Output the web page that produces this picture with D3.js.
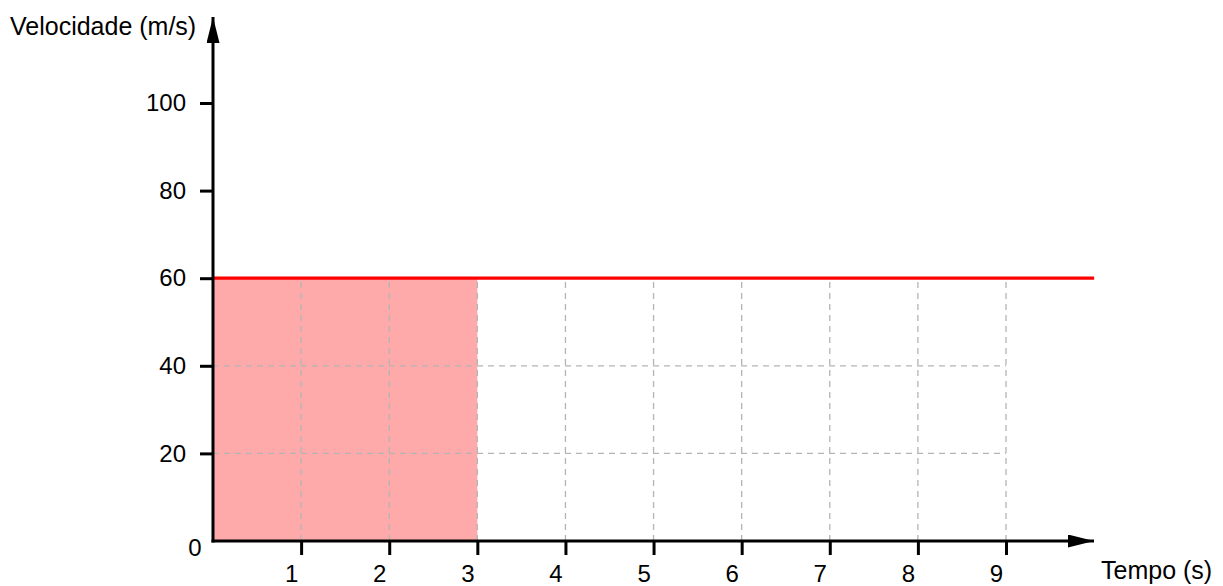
<!DOCTYPE html>
<html>
<head>
<meta charset="utf-8">
<script src="https://cdn.jsdelivr.net/npm/d3@7"></script>
<style>
  body { margin: 0; background: #fff; }
  text { font-family: "Liberation Sans", Arial, sans-serif; }
</style>
</head>
<body>
<div class="canvas"></div>
<script>
// data
const xTicks = [1, 2, 3, 4, 5, 6, 7, 8, 9];
const yTicks = [20, 40, 60, 80, 100];
const tempo = [0, 10];
const velocidade = [60, 60];
const shadeTempo = [0, 3];
const shadeVel = [60, 60];
const gridY = [20, 40];

const width = 1223, height = 586;
const svg = d3.select(".canvas").append("svg").attr("width", width).attr("height", height);

let xScale = d3.scaleLinear().domain([0, 9]).range([213, 1006]);
let yScale = d3.scaleLinear().domain([0, 100]).range([541, 103]);

// shaded area
const area = d3.area()
  .x((d) => xScale(d.t))
  .y0(yScale(0))
  .y1((d) => yScale(d.v));
svg.append("path")
  .datum(shadeTempo.map((t, i) => ({ t: t, v: shadeVel[i] })))
  .attr("d", area)
  .attr("fill", "#ffaaaa");

// dashed grid
svg.selectAll(".vgrid").data(xTicks).enter().append("line")
  .attr("class", "vgrid")
  .attr("x1", (d) => xScale(d)).attr("x2", (d) => xScale(d))
  .attr("y1", yScale(0)).attr("y2", yScale(60))
  .attr("stroke", "#b4b4b4").attr("stroke-width", 1.3)
  .attr("stroke-dasharray", "6,5");
svg.selectAll(".hgrid").data(gridY).enter().append("line")
  .attr("class", "hgrid")
  .attr("x1", xScale(0)).attr("x2", xScale(9))
  .attr("y1", (d) => yScale(d)).attr("y2", (d) => yScale(d))
  .attr("stroke", "#b4b4b4").attr("stroke-width", 1.3)
  .attr("stroke-dasharray", "6,5");

// red line
const line = d3.line().x((d) => xScale(d.t)).y((d) => yScale(d.v));
svg.append("path")
  .datum(tempo.map((t, i) => ({ t: t, v: velocidade[i] })))
  .attr("d", line)
  .attr("fill", "none")
  .attr("stroke", "#ff0000")
  .attr("stroke-width", 3.2);

// arrow heads
const defs = svg.append("defs");
defs.append("marker")
  .attr("id", "arrow")
  .attr("viewBox", "0 0 10 10")
  .attr("refX", 10).attr("refY", 5)
  .attr("markerUnits", "userSpaceOnUse")
  .attr("markerWidth", 26).attr("markerHeight", 13)
  .attr("orient", "auto")
  .attr("preserveAspectRatio", "none")
  .append("path").attr("d", "M0,0 L10,5 L0,10 Z").attr("fill", "#000");

// axis lines
svg.append("line")
  .attr("x1", xScale(0) - 1.5).attr("x2", 1094)
  .attr("y1", yScale(0)).attr("y2", yScale(0))
  .attr("stroke", "#000").attr("stroke-width", 3)
  .attr("marker-end", "url(#arrow)");
svg.append("line")
  .attr("x1", xScale(0)).attr("x2", xScale(0))
  .attr("y1", yScale(0) + 1.5).attr("y2", 17)
  .attr("stroke", "#000").attr("stroke-width", 3)
  .attr("marker-end", "url(#arrow)");

// ticks
let xAxis = svg.append("g")
  .attr("transform", `translate(0,${yScale(0)})`)
  .call(d3.axisBottom(xScale).tickValues(xTicks).tickSize(14).tickSizeOuter(0).tickPadding(10));
let yAxis = svg.append("g")
  .attr("transform", `translate(${xScale(0)},0)`)
  .call(d3.axisLeft(yScale).tickValues(yTicks).tickSize(13).tickSizeOuter(0).tickPadding(14));
[xAxis, yAxis].forEach((g) => {
  g.select(".domain").remove();
  g.selectAll(".tick line").attr("stroke", "#000").attr("stroke-width", 3);
  g.selectAll(".tick text")
    .style("font-family", "Liberation Sans, Arial, sans-serif")
    .style("font-size", "24px")
    .attr("fill", "#000");
});
xAxis.selectAll(".tick text").attr("dx", -10);

// origin label
svg.append("text")
  .attr("x", xScale(0) - 18).attr("y", yScale(0) + 15)
  .attr("text-anchor", "middle")
  .style("font-size", "24px")
  .text("0");

// axis titles
svg.append("text")
  .attr("x", 10).attr("y", 35)
  .style("font-size", "25px")
  .text("Velocidade (m/s)");
svg.append("text")
  .attr("x", 1101).attr("y", 579)
  .style("font-size", "25px")
  .text("Tempo (s)");
</script>
</body>
</html>
